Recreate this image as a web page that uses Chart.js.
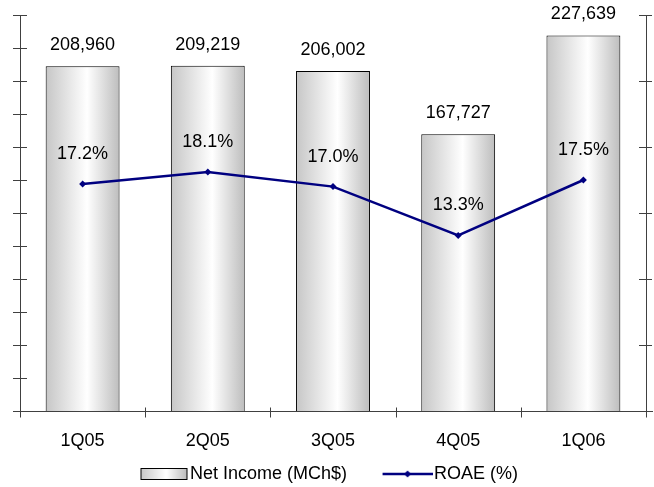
<!DOCTYPE html>
<html>
<head>
<meta charset="utf-8">
<script src="https://cdn.jsdelivr.net/npm/chart.js@4.4.1/dist/chart.umd.min.js"></script>
<style>
  html, body { margin: 0; padding: 0; background: #ffffff; }
  #wrap { width: 654px; height: 487px; position: relative; }
</style>
</head>
<body>
<div id="wrap"><canvas id="c" width="654" height="487"></canvas></div>
<script>
const categories = ['1Q05', '2Q05', '3Q05', '4Q05', '1Q06'];
const netIncome = [208960, 209219, 206002, 167727, 227639];
const roae = [17.2, 18.1, 17.0, 13.3, 17.5];
const seriesNames = ['Net Income (MCh$)', 'ROAE (%)'];

const FONT = "'Liberation Sans', Arial, Helvetica, sans-serif";
const NAVY = '#000080';
const AXIS = '#404040';

function barGradient(ctx) {
  const chart = ctx.chart;
  const xs = chart.scales && chart.scales.x;
  if (!xs || !chart.chartArea || ctx.dataIndex === undefined) return '#dcdcdc';
  const c = xs.getPixelForValue(ctx.dataIndex);
  const catW = (xs.right - xs.left) / categories.length;
  const w = catW * 0.59;
  const g = chart.ctx.createLinearGradient(c - w / 2, 0, c + w / 2, 0);
  g.addColorStop(0, '#c6c6c6');
  g.addColorStop(0.56, '#ffffff');
  g.addColorStop(1, '#bdbdbd');
  return g;
}

// legend symbols
function makeBarSymbol() {
  const cv = document.createElement('canvas');
  cv.width = 60; cv.height = 14;
  const x = cv.getContext('2d');
  const g = x.createLinearGradient(12, 0, 58, 0);
  g.addColorStop(0, '#c6c6c6');
  g.addColorStop(0.56, '#ffffff');
  g.addColorStop(1, '#bdbdbd');
  x.fillStyle = g;
  x.fillRect(12.5, 1.5, 46, 11);
  x.strokeStyle = '#000';
  x.lineWidth = 1;
  x.strokeRect(12.5, 1.5, 46, 11);
  return cv;
}
function makeLineSymbol() {
  const cv = document.createElement('canvas');
  cv.width = 60; cv.height = 14;
  const x = cv.getContext('2d');
  x.strokeStyle = NAVY;
  x.lineWidth = 2.5;
  x.beginPath(); x.moveTo(10, 7); x.lineTo(60, 7); x.stroke();
  x.fillStyle = NAVY;
  x.beginPath(); x.moveTo(35, 3.5); x.lineTo(38.5, 7); x.lineTo(35, 10.5); x.lineTo(31.5, 7); x.closePath(); x.fill();
  return cv;
}
const barSym = makeBarSymbol();
const lineSym = makeLineSymbol();

const axesPlugin = {
  id: 'axesTicks',
  afterDraw(chart) {
    const ctx = chart.ctx;
    const a = chart.chartArea;
    const y = chart.scales.y, y1 = chart.scales.y1, xs = chart.scales.x;
    ctx.save();
    ctx.strokeStyle = AXIS;
    ctx.lineWidth = 1;
    ctx.beginPath();
    const bottom = Math.round(a.bottom) + 0.5;
    ctx.moveTo(Math.round(a.left) + 0.5, a.top); ctx.lineTo(Math.round(a.left) + 0.5, bottom);
    ctx.moveTo(Math.round(a.right) + 0.5, a.top); ctx.lineTo(Math.round(a.right) + 0.5, bottom);
    ctx.moveTo(a.left - 7, bottom); ctx.lineTo(a.right + 7, bottom);
    y.ticks.forEach(t => {
      const py = Math.round(y.getPixelForValue(t.value)) + 0.5;
      ctx.moveTo(a.left - 7, py); ctx.lineTo(a.left + 7, py);
    });
    y1.ticks.forEach(t => {
      const py = Math.round(y1.getPixelForValue(t.value)) + 0.5;
      ctx.moveTo(a.right - 7, py); ctx.lineTo(a.right + 6, py);
    });
    const n = categories.length;
    for (let i = 0; i <= n; i++) {
      let px;
      if (i === 0) px = a.left;
      else if (i === n) px = a.right;
      else px = (xs.getPixelForValue(i - 1) + xs.getPixelForValue(i)) / 2;
      px = Math.round(px) + 0.5;
      ctx.moveTo(px, bottom - 4); ctx.lineTo(px, bottom + 6);
    }
    ctx.stroke();
    ctx.restore();
  }
};

const labelsPlugin = {
  id: 'valueLabels',
  afterDatasetsDraw(chart) {
    const ctx = chart.ctx;
    ctx.save();
    ctx.font = '18px ' + FONT;
    ctx.fillStyle = '#000';
    ctx.textAlign = 'center';
    ctx.textBaseline = 'middle';
    const mBar = chart.getDatasetMeta(1);
    mBar.data.forEach((el, i) => {
      ctx.fillText(netIncome[i].toLocaleString('en-US'), el.x, el.y - 21);
    });
    const mLine = chart.getDatasetMeta(0);
    mLine.data.forEach((el, i) => {
      ctx.fillText(roae[i].toFixed(1) + '%', el.x, el.y - 30);
    });
    ctx.restore();
  }
};

new Chart(document.getElementById('c'), {
  type: 'bar',
  data: {
    labels: categories,
    datasets: [
      {
        type: 'line',
        label: seriesNames[1],
        data: roae,
        yAxisID: 'y1',
        borderColor: NAVY,
        backgroundColor: NAVY,
        borderWidth: 2.5,
        pointStyle: 'rectRot',
        pointRadius: 3.5,
        pointBorderWidth: 0,
        pointBackgroundColor: NAVY,
        tension: 0,
        order: 0
      },
      {
        type: 'bar',
        label: seriesNames[0],
        data: netIncome,
        yAxisID: 'y',
        backgroundColor: barGradient,
        borderColor: '#000',
        borderWidth: 1,
        borderSkipped: 'bottom',
        barPercentage: 0.59,
        categoryPercentage: 1.0,
        order: 1
      }
    ]
  },
  options: {
    responsive: false,
    animation: false,
    devicePixelRatio: 1,
    layout: { padding: { top: 15, left: 0, right: 0, bottom: -6 } },
    plugins: {
      tooltip: { enabled: false },
      legend: {
        position: 'bottom',
        align: 'center',
        labels: {
          usePointStyle: true,
          pointStyleWidth: 45,
          padding: 8,
          color: '#000',
          font: { size: 18, family: FONT },
          generateLabels() {
            return [
              { text: seriesNames[0] + '     ', pointStyle: barSym, fillStyle: '#fff', strokeStyle: '#000', lineWidth: 0, hidden: false, datasetIndex: 1 },
              { text: seriesNames[1], pointStyle: lineSym, fillStyle: NAVY, strokeStyle: NAVY, lineWidth: 0, hidden: false, datasetIndex: 0 }
            ];
          }
        }
      }
    },
    scales: {
      x: {
        offset: true,
        grid: { display: false, offset: true },
        border: { display: false },
        ticks: { color: '#000', font: { size: 18, family: FONT }, padding: 11, maxRotation: 0 },
        afterFit(s) { s.height = 46; }
      },
      y: {
        position: 'left',
        min: 0, max: 240000,
        ticks: { display: false, stepSize: 20000 },
        grid: { display: false },
        border: { display: false },
        afterFit(s) { s.width = 20; }
      },
      y1: {
        position: 'right',
        min: 0, max: 30,
        ticks: { display: false, stepSize: 5 },
        grid: { display: false },
        border: { display: false },
        afterFit(s) { s.width = 8; }
      }
    }
  },
  plugins: [axesPlugin, labelsPlugin]
});
</script>
</body>
</html>
